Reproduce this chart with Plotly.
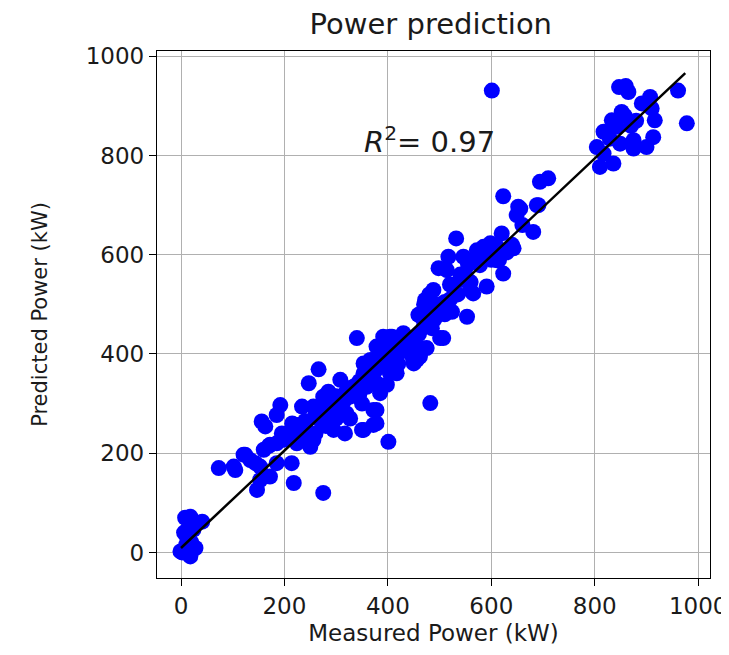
import plotly.graph_objects as go

# Measured (x) vs predicted (y) power, kW
measured = [
    601, 847, 865, 961, 907, 891, 978, 916, 910, 852, 833, 817, 804, 817, 810, 836, 849, 875, 875, 900,
    913, 842, 829, 858, 870, 880, 860,
    694, 710, 623, 652, 649, 688, 681, 620, 532, 643, 611, 585, 656, 691, 598, 572, 517, 498, 546,
    611, 623, 591, 565, 540, 514, 488, 472, 459, 482, 524, 553, 485, 507, 469, 408, 430, 456, 475,
    398, 449, 417, 549, 578, 559,
    340, 266, 247, 285, 192, 234, 156, 163, 185, 224, 256, 308, 324, 353, 366, 378, 404, 430, 456,
    469, 482, 501, 378, 372, 350, 317, 295, 327, 288, 401, 404, 417, 398, 385, 308, 275, 256, 224,
    198, 172, 121, 102, 144, 185, 214, 172, 147, 218, 275, 243, 250,
    73, 105, 124, 153, 160, 185, 134, 153,
    18, 41, 24, 12, -1, 18, 28, 13, 8, 6, 20,
    391, 417, 385, 359, 327, 301, 353, 450, 462, 372, 378, 353,
    330, 345, 360, 395, 420, 440, 300, 315, 265, 280, 210, 230, 520, 535, 560, 600, 495,
    170, 195, 205, 215, 230, 240, 260, 270, 290, 300, 310, 320, 335, 345, 360, 375, 385, 395,
    410, 425, 440, 460, 470, 490, 500, 510, 520, 540, 555, 570, 590, 605, 615, 630, 640, 660,
    350, 380, 420, 445, 470, 480, 510, 300, 320, 260, 280, 240, 2, 10, 22,
]
predicted = [
    931, 938, 928, 931, 918, 905, 865, 871, 895, 888, 871, 848, 817, 804, 777, 784, 824, 831, 814, 817,
    837, 858, 834, 880, 860, 870, 940,
    747, 754, 718, 697, 680, 700, 646, 643, 633, 613, 616, 616, 693, 700, 623, 609, 596, 573, 596,
    589, 562, 536, 522, 549, 569, 529, 509, 479, 482, 485, 475, 452, 432, 469, 435, 422, 415, 412,
    408, 388, 401, 562, 579, 529,
    432, 369, 341, 324, 297, 294, 264, 254, 277, 257, 294, 348, 331, 361, 388, 415, 435, 442, 388,
    411, 301, 432, 287, 257, 247, 240, 247, 270, 267, 223, 361, 361, 338, 321, 294, 314, 227, 220,
    227, 217, 197, 173, 180, 180, 180, 153, 126, 140, 120, 247, 213,
    170, 166, 197, 146, 207, 220, 186, 173,
    72, 62, 46, 29, 2, -8, 9, 12, 70, 40, 20,
    435, 401, 374, 334, 314, 287, 381, 381, 395, 287, 260, 247,
    330, 345, 355, 390, 410, 430, 300, 305, 270, 290, 240, 225, 510, 520, 545, 590, 500,
    215, 240, 230, 260, 250, 265, 275, 290, 300, 315, 300, 325, 335, 320, 350, 365, 395, 380,
    400, 405, 420, 440, 455, 470, 490, 505, 540, 560, 580, 590, 600, 605, 590, 605, 620, 660,
    300, 340, 380, 400, 500, 520, 480, 270, 280, 240, 255, 230, 0, 15, 5,
]

# Fit line endpoints
fit_x = [0, 975]
fit_y = [9, 966]

x_ticks = [0, 200, 400, 600, 800, 1000]
y_ticks = [0, 200, 400, 600, 800, 1000]

FONT = "DejaVu Sans"

fig = go.Figure()
fig.add_trace(go.Scatter(
    x=measured, y=predicted, mode="markers",
    marker=dict(color="#0000ff", size=16, line=dict(width=0)),
    showlegend=False,
))
fig.add_trace(go.Scatter(
    x=fit_x, y=fit_y, mode="lines",
    line=dict(color="black", width=2.5),
    showlegend=False,
))

fig.add_annotation(
    x=350, y=790, xref="x", yref="y",
    text="<i>R</i><sup>2</sup>= 0.97",
    showarrow=False, xanchor="left", yanchor="bottom",
    font=dict(family=FONT, size=29, color="#1a1a1a"),
)

axis_common = dict(
    showline=True, linecolor="black", linewidth=1.4, mirror=True,
    ticks="outside", ticklen=7, tickwidth=1.4, tickcolor="black",
    showgrid=True, gridcolor="#b0b0b0", gridwidth=1.4,
    zeroline=False, automargin=False,
    tickfont=dict(family=FONT, size=23, color="#1a1a1a"),
)

fig.update_layout(
    width=729, height=655,
    margin=dict(l=149, r=27, t=43, b=85),
    paper_bgcolor="white", plot_bgcolor="white",
    title=dict(text="Power prediction", x=0.58, xanchor="center",
               y=0.976, yanchor="middle", yref="container",
               font=dict(family=FONT, size=29, color="#1a1a1a")),
    xaxis=dict(range=[-46.4, 1022.8], tickvals=x_ticks,
               title=dict(text="Measured Power (kW)", standoff=7,
                          font=dict(family=FONT, size=23, color="#1a1a1a")),
               **axis_common),
    yaxis=dict(range=[-51.5, 1010.7], tickvals=y_ticks,
               title=dict(text="Predicted Power (kW)", standoff=32,
                          font=dict(family=FONT, size=21, color="#1a1a1a")),
               **axis_common),
)

fig.write_html("out.html")
